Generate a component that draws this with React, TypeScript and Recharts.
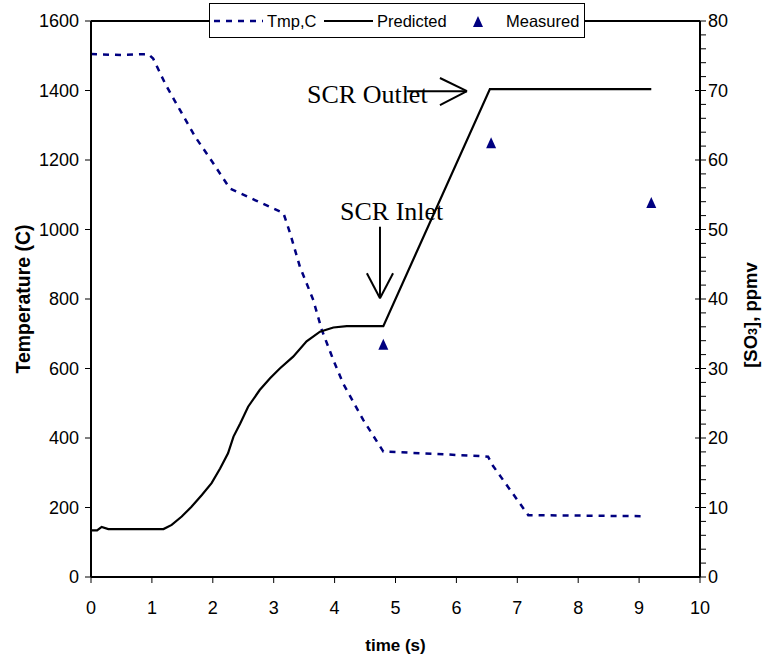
import React from "react"
import {
  ComposedChart,
  Line,
  Scatter,
  XAxis,
  YAxis,
  ReferenceLine,
  ReferenceDot,
} from "recharts"

// temperature profile (left axis, C)
const tmpTime = [0, 0.5, 0.94, 1.02, 1.22, 1.46, 1.71, 2.01, 2.28, 2.7, 3.16, 3.27, 3.43, 3.65, 3.79, 3.98, 4.14, 4.47, 4.8, 5.07, 6.39, 6.52, 6.6, 7.18, 9.1]
const tmpValues = [1505, 1502, 1505, 1492, 1419, 1344, 1267, 1190, 1118, 1084, 1047, 989, 893, 797, 711, 624, 557, 452, 361, 359, 348, 346, 320, 178, 175]

// predicted SO3 (right axis, ppmv)
const predTime = [0, 0.1, 0.175, 0.285, 1.19, 1.325, 1.49, 1.65, 1.82, 1.98, 2.12, 2.25, 2.34, 2.45, 2.58, 2.77, 2.94, 3.1, 3.32, 3.54, 3.76, 3.98, 4.2, 4.8, 6.55, 9.2]
const predValues = [6.7, 6.7, 7.2, 6.9, 6.9, 7.5, 8.7, 10.1, 11.8, 13.5, 15.6, 17.8, 20.2, 22.1, 24.5, 26.9, 28.6, 30.0, 31.7, 33.9, 35.3, 35.9, 36.1, 36.1, 70.2, 70.2]

// measured SO3
const measTime = [4.8, 6.57, 9.2]
const measValues = [33.4, 62.4, 53.8]

const xTicks = [0, 1, 2, 3, 4, 5, 6, 7, 8, 9, 10]
const leftTicks = [0, 200, 400, 600, 800, 1000, 1200, 1400, 1600]
const rightTicks = Array.from({ length: 41 }, (_, i) => i * 2)

// annotation arrows (x in s, y on right axis)
const inletArrow = [
  [{ x: 4.745, y: 50.4 }, { x: 4.745, y: 40.1 }],
  [{ x: 4.53, y: 43.7 }, { x: 4.745, y: 40.1 }],
  [{ x: 4.96, y: 43.7 }, { x: 4.745, y: 40.1 }],
]
const outletArrow = [
  [{ x: 5.19, y: 69.9 }, { x: 6.174, y: 69.9 }],
  [{ x: 5.73, y: 71.8 }, { x: 6.174, y: 69.9 }],
  [{ x: 5.73, y: 67.9 }, { x: 6.174, y: 69.9 }],
]
const notes = [
  { text: "SCR Outlet", x: 3.547, y: 68.2 },
  { text: "SCR Inlet", x: 4.089, y: 51.4 },
]

const NAVY = "#000080"
const SANS = "'Liberation Sans', Arial, sans-serif"
const SERIF = "'Liberation Serif', 'Times New Roman', serif"

const tmpData = tmpTime.map((x, i) => ({ x, tmp: tmpValues[i] }))
const predData = predTime.map((x, i) => ({ x, pred: predValues[i] }))
const measData = measTime.map((x, i) => ({ x, meas: measValues[i] }))

const RightTick = (props: any) => {
  const { x, y, payload } = props
  const major = payload.value % 10 === 0
  return (
    <g>
      <line x1={major ? x - 5 : x} x2={x + 6} y1={y} y2={y} stroke="#000" strokeWidth={1} />
      {major && (
        <text x={x + 8} y={y} dy="0.36em" fontSize={18} fontFamily={SANS} fill="#000">
          {payload.value}
        </text>
      )}
    </g>
  )
}

const Triangle = (props: any) => {
  const { cx, cy } = props
  return <polygon points={`${cx},${cy - 6} ${cx - 5},${cy + 5} ${cx + 5},${cy + 5}`} fill={NAVY} />
}

const RightTitle = (props: any) => {
  const { viewBox } = props
  const cx = viewBox.x + 50
  const cy = viewBox.y + viewBox.height / 2 + 16
  return (
    <text
      x={cx}
      y={cy}
      transform={`rotate(-90, ${cx}, ${cy})`}
      textAnchor="middle"
      dominantBaseline="central"
      fontSize={18.5}
      fontWeight="bold"
      fontFamily={SANS}
      fill="#000"
    >
      [SO<tspan fontSize={12.5} dy={3}>3</tspan><tspan dy={-3}>], ppmv</tspan>
    </text>
  )
}

function Legend() {
  const item: React.CSSProperties = { position: "absolute", top: 7, fontSize: 16.5, fontFamily: SANS, lineHeight: "20px" }
  return (
    <div
      style={{
        position: "absolute",
        left: 209,
        top: 3,
        width: 374,
        height: 33,
        border: "1px solid #000",
        background: "#fff",
      }}
    >
      <svg width={374} height={33} style={{ position: "absolute", left: 0, top: 0 }}>
        <line x1={4} x2={53} y1={17} y2={17} stroke={NAVY} strokeWidth={2.5} strokeDasharray="6 6" />
        <line x1={114} x2={163} y1={17} y2={17} stroke="#000" strokeWidth={2.2} />
        <polygon points="268,12 263,23 273,23" fill={NAVY} />
      </svg>
      <span style={{ ...item, left: 57 }}>Tmp,C</span>
      <span style={{ ...item, left: 167 }}>Predicted</span>
      <span style={{ ...item, left: 296 }}>Measured</span>
    </div>
  )
}

export default function App() {
  return (
    <div style={{ position: "absolute", left: 0, top: 0, width: 762, height: 657, background: "#fff" }}>
      <ComposedChart width={762} height={657} margin={{ top: 21, right: 0, bottom: 0, left: 0 }}>
        <XAxis
          dataKey="x"
          type="number"
          domain={[0, 10]}
          ticks={xTicks}
          height={80}
          tickSize={6}
          tickMargin={18}
          axisLine={{ stroke: "#000", strokeWidth: 2 }}
          tickLine={{ stroke: "#000" }}
          tick={{ fill: "#000", fontSize: 18, fontFamily: SANS }}
          label={{ value: "time (s)", position: "insideBottom", offset: 6, fill: "#000", fontSize: 17, fontWeight: "bold", fontFamily: SANS }}
        />
        <YAxis
          yAxisId="left"
          type="number"
          domain={[0, 1600]}
          ticks={leftTicks}
          width={91}
          tickSize={6}
          tickMargin={6}
          axisLine={{ stroke: "#000", strokeWidth: 2 }}
          tickLine={{ stroke: "#000" }}
          tick={{ fill: "#000", fontSize: 18, fontFamily: SANS }}
          label={{ value: "Temperature (C)", angle: -90, position: "center", dx: -22, fill: "#000", fontSize: 19.5, fontWeight: "bold", fontFamily: SANS }}
        />
        <YAxis
          yAxisId="right"
          orientation="right"
          type="number"
          domain={[0, 80]}
          ticks={rightTicks}
          interval={0}
          width={62}
          tickSize={0}
          tickMargin={0}
          axisLine={{ stroke: "#000", strokeWidth: 2 }}
          tickLine={false}
          tick={<RightTick />}
          label={<RightTitle />}
        />
        <ReferenceLine yAxisId="left" y={1600} stroke="#000" strokeWidth={2} />
        <Line
          yAxisId="left"
          data={tmpData}
          dataKey="tmp"
          type="linear"
          stroke={NAVY}
          strokeWidth={2.5}
          strokeDasharray="6 6"
          dot={false}
          isAnimationActive={false}
        />
        <Line
          yAxisId="right"
          data={predData}
          dataKey="pred"
          type="linear"
          stroke="#000"
          strokeWidth={2.2}
          dot={false}
          isAnimationActive={false}
        />
        <Scatter yAxisId="right" data={measData} dataKey="meas" shape={<Triangle />} isAnimationActive={false} />
        {[...inletArrow, ...outletArrow].map((seg, i) => (
          <ReferenceLine key={i} yAxisId="right" segment={seg} stroke="#000" strokeWidth={2} />
        ))}
        {notes.map((n) => (
          <ReferenceDot
            key={n.text}
            yAxisId="right"
            x={n.x}
            y={n.y}
            r={0}
            shape={(p: any) => (
              <text x={p.cx} y={p.cy} fontSize={26} fontFamily={SERIF} fill="#000">
                {n.text}
              </text>
            )}
          />
        ))}
      </ComposedChart>
      <Legend />
    </div>
  )
}
